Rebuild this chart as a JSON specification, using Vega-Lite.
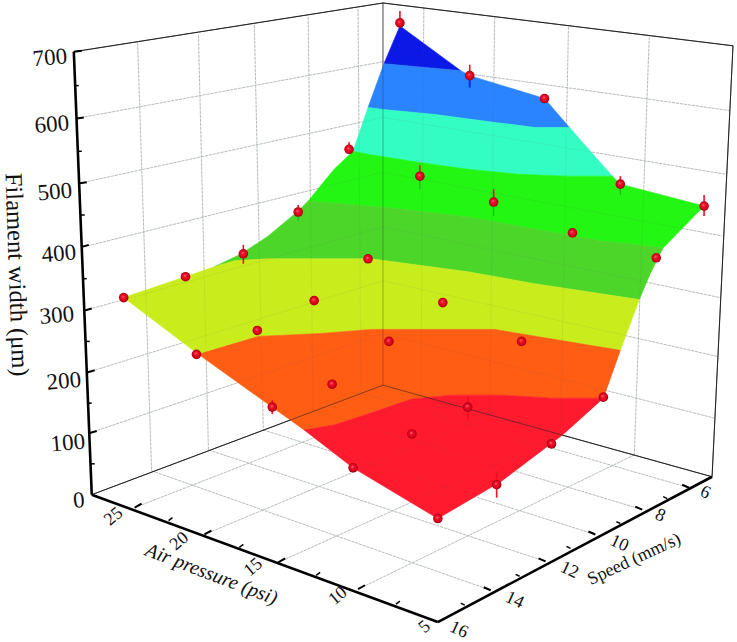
{"$schema":"https://vega.github.io/schema/vega-lite/v6.json","width":737,"height":642,"padding":0,"autosize":{"type":"fit","contains":"padding"},"background":"white","view":{"stroke":null},
"datasets":{
"grid":[{"a":75,"b":119,"c":382,"d":62},{"a":78,"b":184,"c":382,"d":118},{"a":82,"b":248,"c":382,"d":173},{"a":83,"b":312,"c":382,"d":228},{"a":86,"b":374,"c":382,"d":282},{"a":88,"b":435,"c":382,"d":335},
{"a":382,"b":62,"c":729,"d":111},{"a":382,"b":118,"c":725,"d":175},{"a":382,"b":173,"c":722,"d":237},{"a":382,"b":228,"c":720,"d":299},{"a":382,"b":282,"c":717,"d":358},{"a":382,"b":335,"c":714,"d":420},
{"a":136,"b":43,"c":150,"d":473},{"a":197,"b":35,"c":207,"d":452},{"a":253,"b":25,"c":262,"d":432},{"a":307,"b":17,"c":312,"d":412},{"a":357,"b":9,"c":360,"d":395},
{"a":423,"b":8,"c":420,"d":398},{"a":494,"b":17,"c":489,"d":417},{"a":568,"b":27,"c":560,"d":437},{"a":649,"b":37,"c":634,"d":457},
{"a":150,"b":473,"c":490,"d":593},{"a":207,"b":452,"c":545,"d":564},{"a":262,"b":432,"c":595,"d":537},{"a":312,"b":412,"c":642,"d":512},{"a":360,"b":395,"c":689,"d":490},
{"a":133,"b":510,"c":420,"d":398},{"a":203,"b":537,"c":489,"d":417},{"a":277,"b":565,"c":560,"d":437},{"a":357,"b":592,"c":634,"d":457}],
"frame":[{"a":72,"b":52,"c":382,"d":3},{"a":382,"b":3,"c":733,"d":46},{"a":733,"b":46,"c":712,"d":479},{"a":90,"b":497,"c":382,"d":387},{"a":382,"b":387,"c":712,"d":479}],
"back":[{"a":382,"b":3,"c":382,"d":387}],
"axes":[{"a":72,"b":52,"c":90,"d":497},{"a":90,"b":497,"c":437,"d":625},{"a":437,"b":625,"c":712,"d":479}],
"major":[{"a":72,"b":52,"c":80,"d":51},{"a":75,"b":119,"c":82,"d":118},{"a":78,"b":184,"c":85,"d":183},{"a":80,"b":248,"c":87,"d":246},{"a":83,"b":312,"c":90,"d":310},{"a":86,"b":374,"c":93,"d":372},{"a":88,"b":435,"c":95,"d":433},
{"a":133,"b":510,"c":140,"d":506},{"a":203,"b":537,"c":210,"d":533},{"a":277,"b":565,"c":284,"d":561},{"a":357,"b":592,"c":364,"d":588},
{"a":490,"b":593,"c":483,"d":590},{"a":545,"b":564,"c":538,"d":561},{"a":595,"b":537,"c":588,"d":534},{"a":642,"b":512,"c":635,"d":509},{"a":689,"b":490,"c":682,"d":487}],
"minor":[{"a":73,"b":86,"c":77,"d":86},{"a":76,"b":152,"c":80,"d":152},{"a":79,"b":216,"c":83,"d":216},{"a":81,"b":280,"c":85,"d":280},{"a":84,"b":343,"c":88,"d":343},{"a":86,"b":405,"c":90,"d":405},{"a":89,"b":466,"c":93,"d":466},
{"a":167,"b":523,"c":171,"d":520},{"a":238,"b":550,"c":242,"d":547},{"a":315,"b":578,"c":319,"d":575},{"a":395,"b":607,"c":399,"d":604},
{"a":464,"b":608,"c":460,"d":606},{"a":519,"b":579,"c":515,"d":577},{"a":570,"b":551,"c":566,"d":549},{"a":620,"b":526,"c":616,"d":524},{"a":667,"b":501,"c":663,"d":499}],
"bands":[
{"band":"650-700","i":1,"x":399,"y":26},{"band":"650-700","i":2,"x":460,"y":71},{"band":"650-700","i":3,"x":383,"y":64},
{"band":"550-650","i":1,"x":383,"y":64},{"band":"550-650","i":2,"x":460,"y":71},{"band":"550-650","i":3,"x":469,"y":76},{"band":"550-650","i":4,"x":544,"y":99},{"band":"550-650","i":5,"x":569,"y":128},{"band":"550-650","i":6,"x":534,"y":128},{"band":"550-650","i":7,"x":494,"y":123},{"band":"550-650","i":8,"x":434,"y":115},{"band":"550-650","i":9,"x":382,"y":110},{"band":"550-650","i":10,"x":367,"y":108},
{"band":"450-550","i":1,"x":367,"y":108},{"band":"450-550","i":2,"x":382,"y":110},{"band":"450-550","i":3,"x":434,"y":115},{"band":"450-550","i":4,"x":494,"y":123},{"band":"450-550","i":5,"x":534,"y":128},{"band":"450-550","i":6,"x":569,"y":128},{"band":"450-550","i":7,"x":612,"y":177},{"band":"450-550","i":8,"x":567,"y":177},{"band":"450-550","i":9,"x":517,"y":175},{"band":"450-550","i":10,"x":467,"y":170},{"band":"450-550","i":11,"x":417,"y":163},{"band":"450-550","i":12,"x":367,"y":155},{"band":"450-550","i":13,"x":352,"y":152},
{"band":"400-450","i":1,"x":352,"y":152},{"band":"400-450","i":2,"x":367,"y":155},{"band":"400-450","i":3,"x":417,"y":163},{"band":"400-450","i":4,"x":467,"y":170},{"band":"400-450","i":5,"x":517,"y":175},{"band":"400-450","i":6,"x":567,"y":177},{"band":"400-450","i":7,"x":612,"y":177},{"band":"400-450","i":8,"x":620,"y":185},{"band":"400-450","i":9,"x":704,"y":207},{"band":"400-450","i":10,"x":663,"y":249},{"band":"400-450","i":11,"x":600,"y":242},{"band":"400-450","i":12,"x":534,"y":230},{"band":"400-450","i":13,"x":467,"y":218},{"band":"400-450","i":14,"x":400,"y":210},{"band":"400-450","i":15,"x":367,"y":207},{"band":"400-450","i":16,"x":307,"y":202},{"band":"400-450","i":17,"x":333,"y":170},
{"band":"300-400","i":1,"x":307,"y":202},{"band":"300-400","i":2,"x":367,"y":207},{"band":"300-400","i":3,"x":400,"y":210},{"band":"300-400","i":4,"x":467,"y":218},{"band":"300-400","i":5,"x":534,"y":230},{"band":"300-400","i":6,"x":600,"y":242},{"band":"300-400","i":7,"x":663,"y":249},{"band":"300-400","i":8,"x":650,"y":275},{"band":"300-400","i":9,"x":639,"y":301},{"band":"300-400","i":10,"x":534,"y":285},{"band":"300-400","i":11,"x":467,"y":273},{"band":"300-400","i":12,"x":370,"y":260},{"band":"300-400","i":13,"x":267,"y":260},{"band":"300-400","i":14,"x":233,"y":262},{"band":"300-400","i":15,"x":213,"y":268},{"band":"300-400","i":16,"x":240,"y":255},{"band":"300-400","i":17,"x":267,"y":237},{"band":"300-400","i":18,"x":297,"y":212},
{"band":"200-300","i":1,"x":122,"y":299},{"band":"200-300","i":2,"x":184,"y":278},{"band":"200-300","i":3,"x":213,"y":268},{"band":"200-300","i":4,"x":233,"y":262},{"band":"200-300","i":5,"x":267,"y":260},{"band":"200-300","i":6,"x":370,"y":260},{"band":"200-300","i":7,"x":467,"y":273},{"band":"200-300","i":8,"x":534,"y":285},{"band":"200-300","i":9,"x":639,"y":301},{"band":"200-300","i":10,"x":620,"y":352},{"band":"200-300","i":11,"x":494,"y":331},{"band":"200-300","i":12,"x":444,"y":331},{"band":"200-300","i":13,"x":370,"y":331},{"band":"200-300","i":14,"x":320,"y":335},{"band":"200-300","i":15,"x":257,"y":338},{"band":"200-300","i":16,"x":197,"y":356},
{"band":"100-200","i":1,"x":197,"y":356},{"band":"100-200","i":2,"x":257,"y":338},{"band":"100-200","i":3,"x":320,"y":335},{"band":"100-200","i":4,"x":370,"y":331},{"band":"100-200","i":5,"x":444,"y":331},{"band":"100-200","i":6,"x":494,"y":331},{"band":"100-200","i":7,"x":620,"y":352},{"band":"100-200","i":8,"x":603,"y":400},{"band":"100-200","i":9,"x":550,"y":400},{"band":"100-200","i":10,"x":500,"y":397},{"band":"100-200","i":11,"x":450,"y":397},{"band":"100-200","i":12,"x":410,"y":401},{"band":"100-200","i":13,"x":370,"y":415},{"band":"100-200","i":14,"x":333,"y":427},{"band":"100-200","i":15,"x":303,"y":432},
{"band":"0-100","i":1,"x":303,"y":432},{"band":"0-100","i":2,"x":333,"y":427},{"band":"0-100","i":3,"x":370,"y":415},{"band":"0-100","i":4,"x":410,"y":401},{"band":"0-100","i":5,"x":450,"y":397},{"band":"0-100","i":6,"x":500,"y":397},{"band":"0-100","i":7,"x":550,"y":400},{"band":"0-100","i":8,"x":603,"y":400},{"band":"0-100","i":9,"x":562,"y":437},{"band":"0-100","i":10,"x":500,"y":484},{"band":"0-100","i":11,"x":437,"y":521},{"band":"0-100","i":12,"x":352,"y":470}],
"points":[{"x":122,"y":299},{"x":184,"y":278},{"x":242,"y":255},{"x":297,"y":213},{"x":348,"y":150},{"x":399,"y":23},
{"x":195,"y":356},{"x":256,"y":332},{"x":313,"y":302},{"x":367,"y":260},{"x":419,"y":177},{"x":469,"y":76},
{"x":271,"y":409},{"x":331,"y":386},{"x":388,"y":343},{"x":442,"y":304},{"x":493,"y":203},{"x":544,"y":99},
{"x":352,"y":470},{"x":411,"y":436},{"x":467,"y":409},{"x":521,"y":343},{"x":572,"y":234},{"x":620,"y":185},
{"x":437,"y":521},{"x":496,"y":487},{"x":551,"y":446},{"x":603,"y":399},{"x":656,"y":259},{"x":704,"y":207}],
"errRed":[{"x":399,"y":11,"y2":23},{"x":469,"y":65,"y2":76},{"x":297,"y":206,"y2":213},{"x":242,"y":246,"y2":265},{"x":348,"y":143,"y2":150},{"x":419,"y":166,"y2":177},{"x":493,"y":190,"y2":203},{"x":620,"y":177,"y2":185},{"x":704,"y":196,"y2":217},{"x":467,"y":398,"y2":423},{"x":496,"y":474,"y2":500},{"x":271,"y":402,"y2":416}],
"errGreen":[{"x":297,"y":213,"y2":222},{"x":419,"y":177,"y2":190},{"x":493,"y":203,"y2":217},{"x":620,"y":185,"y2":196}],
"errBlue":[{"x":469,"y":76,"y2":88}],
"yLabels":[{"t":"700","x":48,"y":58},{"t":"600","x":50,"y":125},{"t":"500","x":53,"y":193},{"t":"400","x":57,"y":255},{"t":"300","x":55,"y":317},{"t":"200","x":62,"y":383},{"t":"100","x":66,"y":445},{"t":"0","x":77,"y":503}],
"airLabels":[{"t":"25","x":112,"y":519},{"t":"20","x":178,"y":544},{"t":"15","x":252,"y":570},{"t":"10","x":337,"y":599},{"t":"5","x":424,"y":630}],
"speedLabels":[{"t":"6","x":705,"y":495},{"t":"8","x":660,"y":518},{"t":"10","x":619,"y":546},{"t":"12","x":569,"y":573},{"t":"14","x":514,"y":603},{"t":"16","x":458,"y":633}],
"yTitle":[{"t":"Filament width (μm)","x":14,"y":276}],
"airTitle":[{"t":"Air pressure (psi)","x":210,"y":577}],
"speedTitle":[{"t":"Speed (mm/s)","x":634,"y":562}]
},
"encoding":{
"x":{"field":"a","type":"quantitative","scale":{"domain":[0,737],"nice":false,"zero":false},"axis":null},
"y":{"field":"b","type":"quantitative","scale":{"domain":[642,0],"nice":false,"zero":false},"axis":null}
},
"layer":[
{"data":{"name":"grid"},"mark":{"type":"rule","color":"#bfc7c7","strokeWidth":1,"strokeDash":[3,1]},"encoding":{"x2":{"field":"c"},"y2":{"field":"d"}}},
{"data":{"name":"back"},"mark":{"type":"rule","color":"#8f8f8f","strokeWidth":1.2},"encoding":{"x2":{"field":"c"},"y2":{"field":"d"}}},
{"data":{"name":"frame"},"mark":{"type":"rule","color":"#222222","strokeWidth":1},"encoding":{"x2":{"field":"c"},"y2":{"field":"d"}}},
{"data":{"name":"bands"},"mark":{"type":"line","interpolate":"linear-closed","strokeWidth":0.6},"encoding":{
"x":{"field":"x","type":"quantitative","scale":{"domain":[0,737],"nice":false,"zero":false},"axis":null},
"y":{"field":"y","type":"quantitative","scale":{"domain":[642,0],"nice":false,"zero":false},"axis":null},
"order":{"field":"i","type":"quantitative"},
"detail":{"field":"band"},
"fill":{"field":"band","type":"nominal","legend":null,"scale":{"domain":["650-700","550-650","450-550","400-450","300-400","200-300","100-200","0-100"],"range":["#0b18e6","#2a84ff","#33fdc2","#22f612","#4cd62a","#c9ec1c","#ff5c14","#ff1a2e"]}},
"stroke":{"field":"band","type":"nominal","legend":null,"scale":{"domain":["650-700","550-650","450-550","400-450","300-400","200-300","100-200","0-100"],"range":["#0b18e6","#2a84ff","#33fdc2","#22f612","#4cd62a","#c9ec1c","#ff5c14","#ff1a2e"]}}
}},
{"data":{"name":"grid"},"mark":{"type":"rule","color":"#555555","strokeWidth":1,"opacity":0.08},"encoding":{"x2":{"field":"c"},"y2":{"field":"d"}}},
{"data":{"name":"back"},"mark":{"type":"rule","color":"#333333","strokeWidth":1.2,"opacity":0.3},"encoding":{"x2":{"field":"c"},"y2":{"field":"d"}}},
{"data":{"name":"frame"},"mark":{"type":"rule","color":"#222222","strokeWidth":1,"opacity":0.55},"encoding":{"x2":{"field":"c"},"y2":{"field":"d"}}},
{"data":{"name":"axes"},"mark":{"type":"rule","color":"#000000","strokeWidth":2.6},"encoding":{"x2":{"field":"c"},"y2":{"field":"d"}}},
{"data":{"name":"major"},"mark":{"type":"rule","color":"#000000","strokeWidth":2},"encoding":{"x2":{"field":"c"},"y2":{"field":"d"}}},
{"data":{"name":"minor"},"mark":{"type":"rule","color":"#000000","strokeWidth":1.5},"encoding":{"x2":{"field":"c"},"y2":{"field":"d"}}},
{"data":{"name":"errGreen"},"mark":{"type":"rule","color":"#2aa52a","strokeWidth":1},"encoding":{"x":{"field":"x","type":"quantitative"},"y":{"field":"y","type":"quantitative"},"y2":{"field":"y2"}}},
{"data":{"name":"errBlue"},"mark":{"type":"rule","color":"#1030e8","strokeWidth":2},"encoding":{"x":{"field":"x","type":"quantitative"},"y":{"field":"y","type":"quantitative"},"y2":{"field":"y2"}}},
{"data":{"name":"errRed"},"mark":{"type":"rule","color":"#f01020","strokeWidth":1.6},"encoding":{"x":{"field":"x","type":"quantitative"},"y":{"field":"y","type":"quantitative"},"y2":{"field":"y2"}}},
{"data":{"name":"points"},"mark":{"type":"point","shape":"circle","filled":true,"size":92,"opacity":1,"fill":{"gradient":"radial","x1":0.42,"y1":0.38,"r1":0,"x2":0.5,"y2":0.5,"r2":0.55,"stops":[{"offset":0,"color":"#ff7a8a"},{"offset":0.3,"color":"#f0102a"},{"offset":0.75,"color":"#d00018"},{"offset":1,"color":"#70000c"}]}},"encoding":{"x":{"field":"x","type":"quantitative"},"y":{"field":"y","type":"quantitative"}}},
{"data":{"name":"yLabels"},"mark":{"type":"text","font":"Liberation Serif","fontSize":23,"angle":355,"align":"center","baseline":"middle","color":"#111111"},"encoding":{"x":{"field":"x","type":"quantitative"},"y":{"field":"y","type":"quantitative"},"text":{"field":"t"}}},
{"data":{"name":"airLabels"},"mark":{"type":"text","font":"Liberation Serif","fontSize":18,"angle":320,"align":"center","baseline":"middle","color":"#111111"},"encoding":{"x":{"field":"x","type":"quantitative"},"y":{"field":"y","type":"quantitative"},"text":{"field":"t"}}},
{"data":{"name":"speedLabels"},"mark":{"type":"text","font":"Liberation Serif","fontSize":18,"angle":25,"align":"center","baseline":"middle","color":"#111111"},"encoding":{"x":{"field":"x","type":"quantitative"},"y":{"field":"y","type":"quantitative"},"text":{"field":"t"}}},
{"data":{"name":"yTitle"},"mark":{"type":"text","font":"Liberation Serif","fontSize":24.5,"angle":88,"align":"center","baseline":"middle","color":"#111111"},"encoding":{"x":{"field":"x","type":"quantitative"},"y":{"field":"y","type":"quantitative"},"text":{"field":"t"}}},
{"data":{"name":"airTitle"},"mark":{"type":"text","font":"Liberation Serif","fontSize":20,"fontStyle":"italic","angle":21,"align":"center","baseline":"middle","color":"#111111"},"encoding":{"x":{"field":"x","type":"quantitative"},"y":{"field":"y","type":"quantitative"},"text":{"field":"t"}}},
{"data":{"name":"speedTitle"},"mark":{"type":"text","font":"Liberation Serif","fontSize":18,"angle":335,"align":"center","baseline":"middle","color":"#111111"},"encoding":{"x":{"field":"x","type":"quantitative"},"y":{"field":"y","type":"quantitative"},"text":{"field":"t"}}}
]}
